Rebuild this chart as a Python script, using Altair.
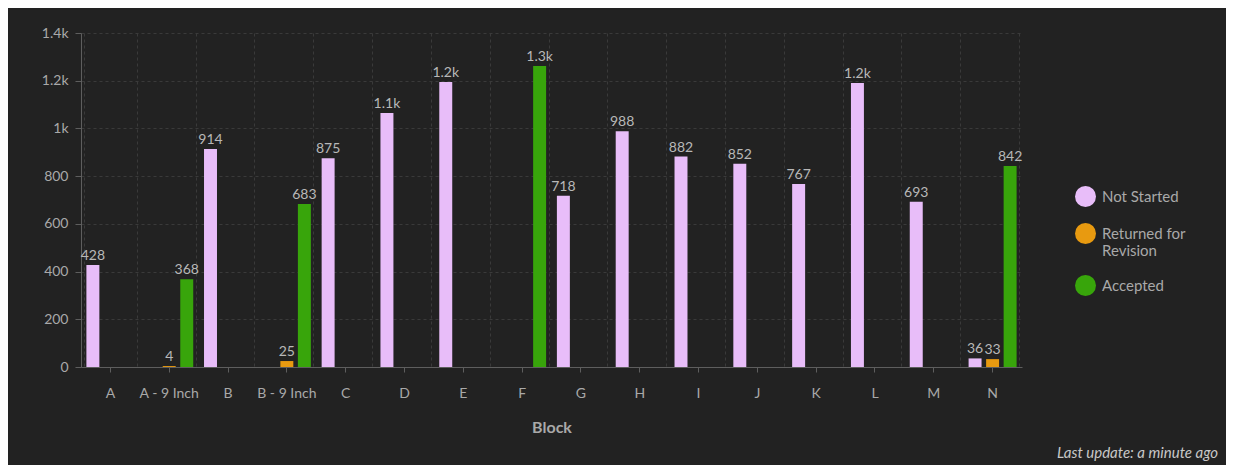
import altair as alt
import pandas as pd

categories = ["A", "A - 9 Inch", "B", "B - 9 Inch", "C", "D", "E", "F", "G",
              "H", "I", "J", "K", "L", "M", "N"]
statuses = ["Not Started", "Returned for Revision", "Accepted"]
colors = ["#e8bdf9", "#e89a10", "#38a50b"]
y_ticks = [0, 200, 400, 600, 800, 1000, 1200, 1400]

not_started = [428, None, 914, None, 875, 1065, 1195, None, 718, 988, 882, 852, 767, 1190, 693, 36]
returned = [None, 4, None, 25, None, None, None, None, None, None, None, None, None, None, None, 33]
accepted = [None, 368, None, 683, None, None, None, 1262, None, None, None, None, None, None, None, 842]

rows = []
for series, vals in zip(statuses, [not_started, returned, accepted]):
    for c, v in zip(categories, vals):
        if v is not None:
            rows.append({"Block": c, "Status": series, "Value": v})
df = pd.DataFrame(rows)

TXT = "#a9a9a9"
LINE = "#5e5e5e"
GRID = "#3a3a3a"

x_main = alt.X(
    "Block:N", sort=categories,
    scale=alt.Scale(paddingInner=0.1, paddingOuter=0.05),
    axis=alt.Axis(orient="bottom", title="Block", labelAngle=0, labelFontSize=14,
                  labelColor=TXT, labelPadding=14, tickSize=5, tickColor=LINE,
                  domainColor=LINE, grid=False, titleFontSize=16,
                  titleFontWeight="bold", titleColor=TXT, titlePadding=19),
)
x_grid = alt.X(
    "Block:N", sort=categories,
    axis=alt.Axis(orient="bottom", title=None, labels=False, ticks=False,
                  domain=False, grid=True, tickBand="extent", gridColor=GRID,
                  gridDash=[3, 3]),
)
xoff = alt.XOffset("Status:N", sort=statuses,
                   scale=alt.Scale(domain=statuses, paddingInner=0.26, paddingOuter=0.14))
y_enc = alt.Y(
    "Value:Q", scale=alt.Scale(domain=[0, 1400], nice=False),
    axis=alt.Axis(title=None, values=y_ticks,
                  labelExpr="datum.value >= 1000 ? format(datum.value / 1000, '~g') + 'k' : format(datum.value, 'd')",
                  labelFontSize=14, labelColor=TXT, tickSize=6,
                  tickColor=LINE, labelPadding=7, domainColor=LINE, grid=True,
                  gridColor=GRID, gridDash=[3, 3]),
)

bars = alt.Chart(df).mark_bar().encode(
    x=x_main,
    xOffset=xoff,
    y=y_enc,
    color=alt.Color(
        "Status:N",
        scale=alt.Scale(domain=statuses, range=colors),
        legend=alt.Legend(
            title=None, orient="none", legendX=994, legendY=153,
            symbolType="circle", symbolSize=440, symbolStrokeWidth=0,
            symbolOpacity=1, labelFontSize=15, labelColor=TXT, rowPadding=16,
            labelOffset=6, padding=0,
            labelExpr="datum.label == 'Returned for Revision' ? ['Returned for', 'Revision'] : datum.label",
        ),
    ),
)

labels = alt.Chart(df).transform_calculate(
    label="datum.Value >= 1000 ? format(datum.Value / 1000, '.1f') + 'k' : format(datum.Value, 'd')"
).mark_text(baseline="bottom", dy=-2, fontSize=14, color="#b8b8b8").encode(
    x=x_grid,
    xOffset=xoff,
    y=alt.Y("Value:Q"),
    text="label:N",
)

chart = alt.layer(bars, labels).resolve_axis(x="independent").properties(
    width=941,
    height=334,
    autosize=alt.AutoSizeParams(type="none"),
    padding={"left": 73, "top": 25, "right": 204, "bottom": 98},
    title=alt.TitleParams(
        text="Last update: a minute ago", orient="bottom", anchor="end",
        frame="group", fontSize=15, fontStyle="italic", fontWeight="normal",
        color="#c8c8c8", dx=196, offset=11,
    ),
).configure(
    background="#222222",
    font="Lato",
).configure_view(stroke=None)

chart.save("out.html", embed_options={"renderer": "svg", "actions": False})
